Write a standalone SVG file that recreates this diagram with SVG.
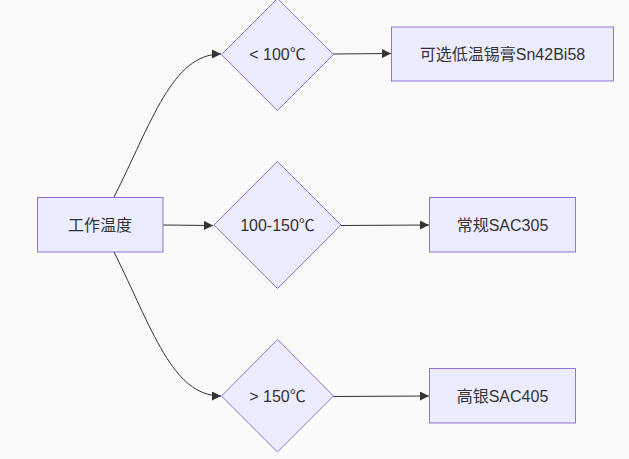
<svg xmlns="http://www.w3.org/2000/svg" width="629" height="459" viewBox="0 0 629 459">
<defs>
<style>
.node rect, .node polygon { fill: #ECECFF; stroke: #9370DB; stroke-width: 1; }
.node text { font-family: "Liberation Sans", "Noto Sans CJK SC", sans-serif; font-size: 16px; fill: #333333; text-anchor: middle; dominant-baseline: central; }
.edges path { fill: none; stroke: #333333; stroke-width: 1; marker-end: url(#arrow); }
</style>
<marker id="arrow" viewBox="0 0 10 10" refX="10" refY="5" markerWidth="9" markerHeight="9" markerUnits="userSpaceOnUse" orient="auto">
<path d="M0,0 L10,5 L0,10 z" fill="#333333"/>
</marker>
</defs>
<rect width="629" height="459" fill="#fafafa"/>
<g class="edges">
<path d="M114,197 C152,122 172,54 221,54"/>
<path d="M163,225 L213,225.5"/>
<path d="M114,252 C152,328 172,396 221,396"/>
<path d="M333,54 L391,53.5"/>
<path d="M341,225.5 L429,225"/>
<path d="M333,396.5 L429,396"/>
</g>
<g id="start" class="node">
<rect x="37.5" y="197.5" width="125.5" height="54.5"/>
<text x="100" y="225">工作温度</text>
</g>
<g id="d1" class="node">
<polygon points="277.5,-1.5 333.5,54.5 277.5,110.5 221.5,54.5"/>
<text x="277.5" y="54.5">&lt; 100℃</text>
</g>
<g id="d2" class="node">
<polygon points="277.5,161.5 341,225 277.5,288.5 214,225"/>
<text x="277.5" y="225">100-150℃</text>
</g>
<g id="d3" class="node">
<polygon points="277.5,339.5 333.5,396 277.5,452 221.5,396"/>
<text x="277.5" y="396">&gt; 150℃</text>
</g>
<g id="b1" class="node">
<rect x="391.5" y="27" width="222" height="54"/>
<text x="502.5" y="54">可选低温锡膏Sn42Bi58</text>
</g>
<g id="b2" class="node">
<rect x="429.5" y="197.5" width="146" height="54.5"/>
<text x="502.5" y="225">常规SAC305</text>
</g>
<g id="b3" class="node">
<rect x="429.5" y="368.5" width="146" height="54.5"/>
<text x="502.5" y="396">高银SAC405</text>
</g>
</svg>
